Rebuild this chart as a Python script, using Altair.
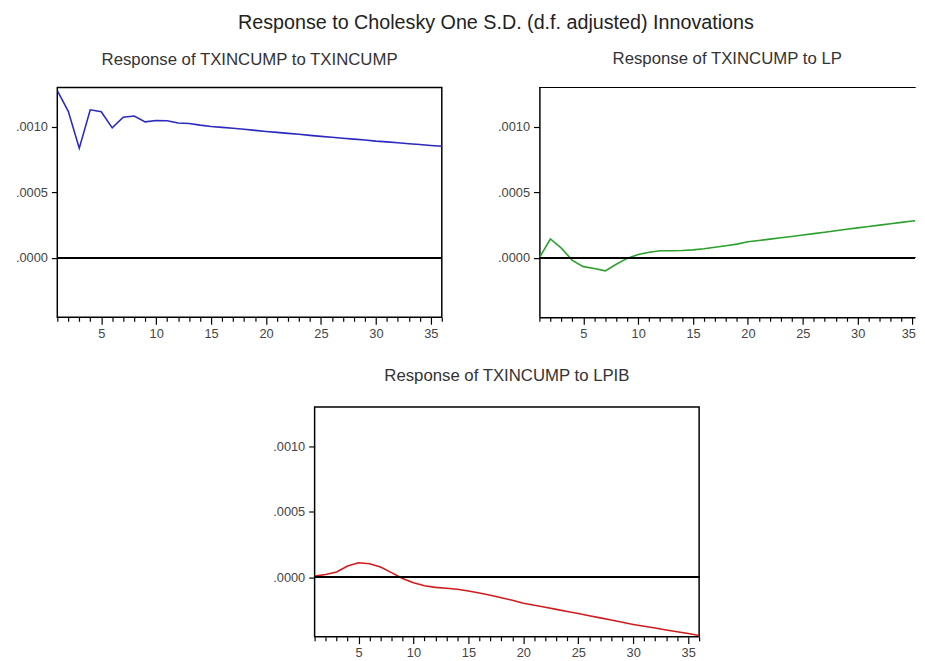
import altair as alt
import pandas as pd

periods = list(range(1, 37))

resp_txincump = [
    0.001276, 0.001118, 0.000837, 0.001130, 0.001115, 0.000992, 0.001073, 0.001083,
    0.001038, 0.001048, 0.001047, 0.001030, 0.001025, 0.001013, 0.001003, 0.000996,
    0.000989, 0.000981, 0.000973, 0.000965, 0.000958, 0.000950, 0.000943, 0.000935,
    0.000927, 0.000920, 0.000913, 0.000906, 0.000899, 0.000891, 0.000885, 0.000878,
    0.000871, 0.000865, 0.000858, 0.000852,
]

resp_lp = [
    0.000000, 0.000143, 0.000073, -0.000020, -0.000068, -0.000083, -0.000100, -0.000050,
    -0.000005, 0.000025, 0.000042, 0.000053, 0.000054, 0.000055, 0.000060, 0.000069,
    0.000080, 0.000092, 0.000104, 0.000122, 0.000132, 0.000142, 0.000152, 0.000162,
    0.000173, 0.000184, 0.000195, 0.000206, 0.000217, 0.000228, 0.000238, 0.000249,
    0.000259, 0.000270, 0.000280, 0.000290,
]

resp_lpib = [
    0.000008, 0.000020, 0.000040, 0.000085, 0.000110, 0.000103, 0.000078, 0.000035,
    -0.000010, -0.000043, -0.000065, -0.000078, -0.000085, -0.000093, -0.000105, -0.000121,
    -0.000138, -0.000157, -0.000177, -0.000200, -0.000215, -0.000230, -0.000246, -0.000262,
    -0.000278, -0.000295, -0.000311, -0.000328, -0.000345, -0.000361, -0.000375, -0.000389,
    -0.000403, -0.000417, -0.000431, -0.000445,
]

y_ticks = [0.0, 0.0005, 0.0010]
x_domain_full = [1, 36]
x_domain_cut = [1, 35.23]   # the right-hand panel runs off the edge of the page
y_domain = [-0.000455, 0.0013]

main_title = "Response to Cholesky One S.D. (d.f. adjusted) Innovations"
panel_titles = [
    "Response of TXINCUMP to TXINCUMP",
    "Response of TXINCUMP to LP",
    "Response of TXINCUMP to LPIB",
]
line_colors = ["#2a2ac0", "#2ca02c", "#d01c1c"]

FONT = "Liberation Sans"
LABEL_COLOR = "#444444"


def panel(values, title, color, y_extent, width, x_domain, cut=False, title_offset=19):
    df = pd.DataFrame({"period": periods, "response": values})
    tick_vals = [p for p in periods if p <= x_domain[1]]
    base = alt.Chart(df)
    x_axis_kw = dict(
        values=tick_vals,
        tickSize={"condition": {"test": "datum.value % 5 === 0", "value": 7}, "value": 4},
        labelExpr="datum.value % 5 === 0 ? datum.label : ''",
        title=None,
        grid=False,
        domain=cut,
        domainColor="black",
        domainWidth=1.5,
        tickColor="black",
        tickWidth=1.2,
        labelColor=LABEL_COLOR,
        labelFontSize=13,
        labelFont=FONT,
        labelPadding=3,
        labelFlush=False,
        labelOverlap=False,
        minExtent=25,
        maxExtent=25,
    )
    if cut:
        x_axis_kw["labelAlign"] = {
            "condition": {"test": "datum.value === 35", "value": "right"},
            "value": "center",
        }
        x_axis_kw["labelOffset"] = {
            "condition": {"test": "datum.value === 35", "value": 3},
            "value": 0,
        }
    x = alt.X(
        "period:Q",
        scale=alt.Scale(domain=x_domain, nice=False, zero=False),
        axis=alt.Axis(**x_axis_kw),
    )
    y = alt.Y(
        "response:Q",
        scale=alt.Scale(domain=y_domain, nice=False, zero=False),
        axis=alt.Axis(
            values=y_ticks,
            labelExpr="substring(format(datum.value, '.4f'), 1)",
            title=None,
            grid=False,
            domain=cut,
            domainColor="black",
            domainWidth=1.5,
            tickSize=6,
            tickColor="black",
            tickWidth=1.2,
            labelColor=LABEL_COLOR,
            labelFontSize=13,
            labelFont=FONT,
            labelPadding=4,
            minExtent=y_extent,
            maxExtent=y_extent,
        ),
    )
    line = base.mark_line(color=color, strokeWidth=1.6, clip=True).encode(x=x, y=y)
    zero = base.mark_rule(color="black", strokeWidth=1.5).encode(y=alt.datum(0))
    layers = [line, zero]
    if cut:
        top_edge = base.mark_rule(color="black", strokeWidth=1.1).encode(
            y=alt.datum(y_domain[1])
        )
        layers.append(top_edge)
    props = dict(
        width=width,
        height=233,
        title=alt.TitleParams(
            title, fontSize=17, font=FONT, color="#333333", fontWeight="normal",
            offset=title_offset,
        ),
    )
    if cut:
        props["view"] = alt.ViewBackground(stroke="transparent")
    return alt.layer(*layers).properties(**props)


p1 = panel(resp_txincump, panel_titles[0], line_colors[0], 49, 390, x_domain_full)
p2 = panel(resp_lp, panel_titles[1], line_colors[1], 96, 381, x_domain_cut, cut=True)
p3 = panel(resp_lpib, panel_titles[2], line_colors[2], 49, 390, x_domain_full,
           title_offset=22)

spacer = (
    alt.Chart(pd.DataFrame({"period": [1]}))
    .mark_point(size=0, opacity=0)
    .encode(x=alt.value(5), y=alt.value(5))
    .properties(width=210, height=10, view=alt.ViewBackground(stroke="transparent"))
)

top = alt.hconcat(p1, p2, spacing=0)
bottom = alt.hconcat(spacer, p3, spacing=0)
chart = (
    alt.vconcat(top, bottom, spacing=24)
    .properties(
        title=alt.TitleParams(
            main_title,
            fontSize=20,
            font=FONT,
            color="#222222",
            fontWeight="normal",
            anchor="middle",
            dx=34,
            offset=17,
        ),
        padding=0,
    )
    .configure_view(stroke="black", strokeWidth=1.5)
)

chart.save("out.html", embed_options={"renderer": "svg", "actions": False})
